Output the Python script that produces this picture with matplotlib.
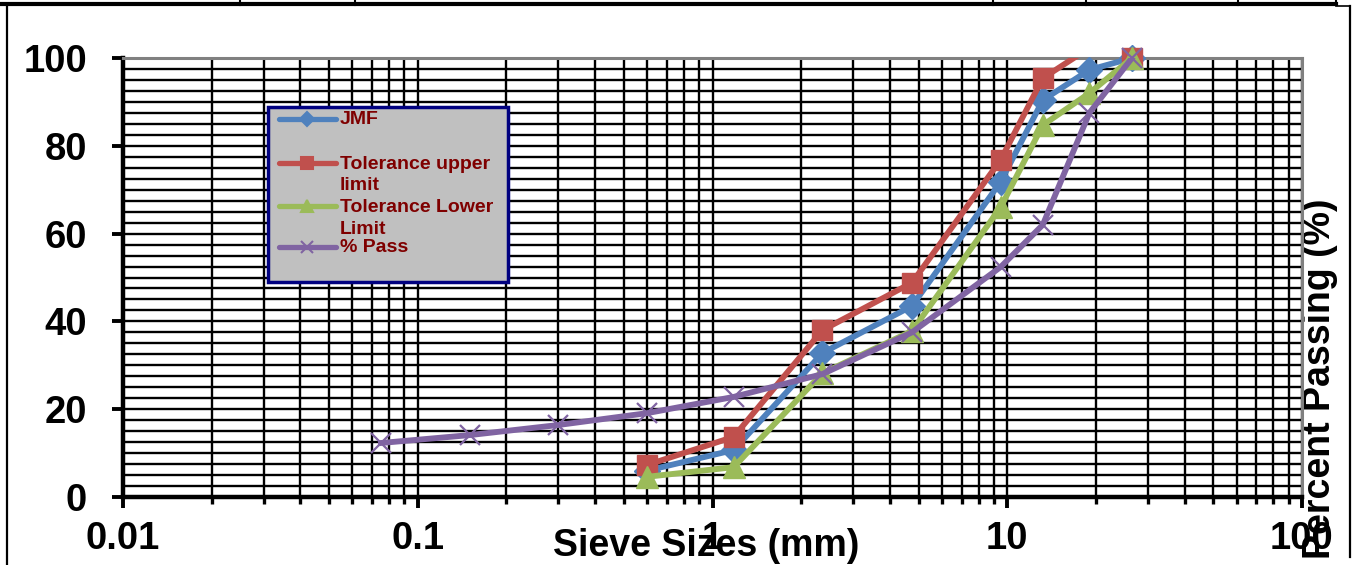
import matplotlib
matplotlib.use("Agg")
import matplotlib.pyplot as plt
from matplotlib.ticker import FixedLocator, FuncFormatter, MultipleLocator, LogLocator, NullFormatter
from matplotlib.lines import Line2D
from matplotlib.patches import Rectangle

plt.rcParams["font.family"] = ["Liberation Sans", "DejaVu Sans"]
plt.rcParams["font.weight"] = "bold"

# Sieve sizes (mm)
sieve_all = [0.075, 0.15, 0.3, 0.6, 1.18, 2.36, 4.75, 9.5, 13.2, 19.0, 26.5]
sieve_mix = [0.6, 1.18, 2.36, 4.75, 9.5, 13.2, 19.0, 26.5]

# Percent passing per series
jmf = [6.0, 10.7, 32.8, 43.5, 71.8, 90.4, 97.3, 100.0]
upper = [7.3, 13.7, 38.0, 48.8, 76.8, 95.4, 102.3, 100.0]
lower = [4.6, 6.8, 28.2, 37.8, 66.0, 84.7, 92.0, 100.0]
passing = [12.3, 14.1, 16.4, 19.1, 22.8, 28.0, 37.5, 52.4, 62.0, 87.5, 100.0]

series_names = ["JMF", "Tolerance upper\nlimit", "Tolerance Lower\nLimit", "% Pass"]
colors = ["#4F81BD", "#C0504D", "#9BBB59", "#8064A2"]
x_ticks = [0.01, 0.1, 1, 10, 100]
y_ticks = [0, 20, 40, 60, 80, 100]

W, H = 1357, 565
fig = plt.figure(figsize=(W / 100, H / 100), dpi=100)
ax = fig.add_axes([123 / W, 68 / H, 1179 / W, 439 / H])


def fx(x):
    return x / W


def fy(y):
    return 1 - y / H


ax.set_xscale("log")
ax.set_xlim(0.01, 100)
ax.set_ylim(0, 100)

# grid
ax.xaxis.set_major_locator(FixedLocator(x_ticks))
ax.xaxis.set_major_formatter(FuncFormatter(lambda v, p: f"{v:g}"))
ax.xaxis.set_minor_locator(LogLocator(base=10, subs=range(2, 10)))
ax.xaxis.set_minor_formatter(NullFormatter())
ax.yaxis.set_major_locator(FixedLocator(y_ticks))
ax.yaxis.set_minor_locator(MultipleLocator(2.5))
ax.set_axisbelow(True)
ax.grid(which="both", axis="both", color="black", lw=1.7)

ax.tick_params(axis="both", which="major", direction="out", length=8, width=2.8,
               labelsize=27.5, colors="black")
ax.tick_params(axis="x", which="major", pad=9)
ax.tick_params(axis="y", which="major", pad=18)
ax.tick_params(axis="x", which="minor", direction="out", length=5, width=2.4)
ax.tick_params(axis="y", which="minor", length=0)

for side in ("left", "bottom"):
    ax.spines[side].set_color("black")
    ax.spines[side].set_linewidth(3.2)
for side in ("top", "right"):
    ax.spines[side].set_color("#808080")
    ax.spines[side].set_linewidth(2.2)

# series
data = [
    (sieve_mix, jmf, "D", 13, 0),
    (sieve_mix, upper, "s", 15, 0),
    (sieve_mix, lower, "^", 16, 0),
    (sieve_all, passing, "x", 15, 1.6),
]
for i, ((xs, ys, mk, ms, mew), c) in enumerate(zip(data, colors)):
    z = 3 + i
    ax.plot(xs, ys, color=c, lw=4.2, solid_joinstyle="round", zorder=z)
    xin = [x for x, y in zip(xs, ys) if y <= 100]
    yin = [y for y in ys if y <= 100]
    if mk == "x":
        ax.plot(xin, yin, ls="none", marker=mk, ms=ms, mew=mew, color=c,
                clip_on=False, zorder=z)
    else:
        ax.plot(xin, yin, ls="none", marker=mk, ms=ms, color=c, mec=c,
                clip_on=False, zorder=z)

ax.set_xlabel("Sieve Sizes (mm)", fontsize=27, fontweight="bold")
ax.xaxis.set_label_coords(0.4945, -0.1116)
ax.xaxis.label.set_va("center")

ax.set_ylabel("Percent Passing (%)", fontsize=27, fontweight="bold")
ax.yaxis.set_label_coords(1.0153, 0.2688)
ax.yaxis.label.set_va("center")
ax.yaxis.label.set_ha("center")

# legend box
fig.add_artist(Rectangle((fx(268), fy(282)), 240 / W, 175 / H, transform=fig.transFigure,
                         facecolor="#C0C0C0", edgecolor="#000080", lw=2.5, zorder=10))
leg_y = [119, 163, 206, 247]
leg_ms = [7, 8, 8, 8]
leg_mk = ["D", "s", "^", "x"]
for name, c, y, mk, ms in zip(series_names, colors, leg_y, leg_mk, leg_ms):
    fig.add_artist(Line2D([fx(279), fx(336)], [fy(y), fy(y)], transform=fig.transFigure,
                          color=c, lw=3.8, solid_capstyle="round", zorder=11))
    fig.add_artist(Line2D([fx(307)], [fy(y)], transform=fig.transFigure, ls="none",
                          marker=mk, ms=ms, color=c, mew=1.5, zorder=12))
    for k, line in enumerate(name.split("\n")):
        fig.text(fx(340), fy(y + 1 + 22 * k), line, color="#7F0000", fontsize=14,
                 fontweight="bold", va="center", ha="left", zorder=12)

# outer frame
frame = dict(transform=fig.transFigure, color="black", zorder=20)
fig.add_artist(Line2D([0, fx(1336)], [fy(3.5), fy(3.5)], lw=3, **frame))
for xv in (240, 355, 993, 1086, 1238, 1336):
    fig.add_artist(Line2D([fx(xv), fx(xv)], [1, fy(5)], lw=1.5, **frame))
fig.add_artist(Line2D([fx(1336), fx(1350)], [fy(6), fy(6)], lw=1.2, **frame))
fig.add_artist(Line2D([fx(6.5), fx(6.5)], [fy(5), 0], lw=1.6, **frame))
fig.add_artist(Line2D([fx(1350), fx(1350)], [fy(6), fy(557)], lw=1.6, **frame))

fig.savefig("out.png", dpi=100, facecolor="white")
